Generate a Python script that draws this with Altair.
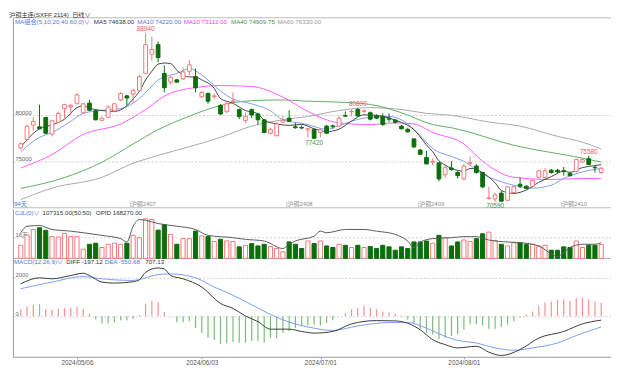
import altair as alt
import pandas as pd

# ---------------- data ----------------
opens = [76460, 77370, 78930, 78750, 79760, 77950, 79240, 80730, 80900, 81250,
         80280, 81320, 80490, 79450, 79790, 80490, 81670, 82110, 82290, 82710,
         84550, 86650, 87680, 84550, 83610, 83850, 83960, 84790, 84200, 82010,
         82360, 82010, 81070, 80390, 81530, 80620, 79450, 80620, 80140, 79510,
         78050, 77780, 79240, 79690, 78750, 78680, 78410, 78470, 78130, 78820,
         78850, 78820, 79960, 80380, 80620, 80440, 80280, 79930, 79900, 79690,
         79480, 78820, 78470, 77430, 76220, 75420, 74900, 74830, 73540, 74270,
         73780, 73090, 74790, 74480, 73780, 70960, 70910, 71530, 70760, 71600,
         72500, 72290, 72290, 73260, 73260, 74030, 74030, 73990, 73680, 73880,
         74930, 75280, 74340, 73780]
highs = [77080, 78990, 79790, 81150, 79800, 79510, 80390, 81250, 81250, 82400,
         81320, 81670, 80630, 79860, 81070, 81320, 82530, 82220, 82890, 84380,
         88940, 88540, 88020, 85420, 84270, 83960, 85210, 86040, 85100, 82640,
         82500, 82340, 81250, 81590, 82470, 80730, 80280, 80730, 80280, 79580,
         78650, 79240, 79930, 80550, 79170, 78890, 78600, 78540, 78490, 78960,
         78990, 79900, 80420, 80630, 80800, 80630, 80420, 80100, 80210, 80210,
         79600, 78960, 78650, 77500, 76350, 76150, 75310, 74900, 74480, 75000,
         73960, 74690, 75520, 74690, 73850, 72220, 71560, 71770, 72290, 72400,
         73260, 72400, 73020, 74060, 74240, 74170, 74170, 74380, 73780, 75300,
         75320, 75580, 74580, 74380]
lows = [76280, 77160, 78330, 78470, 77950, 77710, 79170, 79690, 80030, 81180,
        80210, 80490, 79450, 79380, 79690, 80340, 81530, 81070, 81350, 82640,
        84460, 85940, 85760, 82500, 83330, 83540, 83850, 84380, 82500, 81880,
        81250, 81770, 80030, 80280, 81250, 79580, 79170, 79690, 78990, 78050,
        77950, 77710, 79170, 79270, 78540, 78470, 77600, 77420, 77600, 77970,
        78540, 78680, 79840, 79900, 79860, 80210, 79430, 79580, 78850, 79270,
        79100, 78440, 78120, 76460, 75680, 74650, 74580, 72810, 73200, 73960,
        73130, 72920, 74480, 73650, 72080, 70830, 70590, 70620, 70680, 71510,
        72080, 71980, 72140, 73130, 73090, 73650, 73700, 73440, 73330, 73780,
        74860, 74580, 73780, 73610]
closes = [76900, 78820, 79340, 78540, 78050, 79400, 80210, 81150, 81070, 82220,
          81250, 80550, 79510, 79690, 80910, 81250, 82360, 81880, 82710, 84200,
          87680, 87160, 86280, 82990, 84140, 83610, 84720, 85490, 82990, 82470,
          81530, 82110, 80140, 81250, 81560, 79860, 79860, 80030, 79510, 78130,
          78470, 79060, 79450, 79340, 78650, 78620, 78540, 77500, 78410, 78050,
          78800, 79690, 79900, 80420, 79930, 80490, 79580, 79690, 78990, 79580,
          79240, 78540, 78200, 76560, 75760, 74720, 75000, 73090, 74300, 74100,
          73440, 74480, 74830, 73780, 72220, 71010, 71350, 70660, 72220, 72220,
          72290, 72050, 72920, 73960, 73960, 73780, 73850, 73960, 73440, 75180,
          75180, 74650, 74300, 74240]
volumes = [101000, 180000, 223000, 236000, 216000, 168000, 165000, 193000, 168000, 168000,
           71000, 109000, 117000, 84000, 109000, 117000, 109000, 117000, 178000, 160000,
           305000, 300000, 218000, 261000, 185000, 109000, 152000, 152000, 211000, 173000,
           168000, 130000, 147000, 135000, 130000, 89000, 101000, 114000, 96000, 109000,
           91000, 76000, 51000, 127000, 109000, 76000, 134000, 114000, 134000, 96000,
           84000, 109000, 101000, 84000, 101000, 84000, 91000, 76000, 101000, 89000,
           63000, 89000, 76000, 127000, 127000, 134000, 117000, 178000, 160000, 96000,
           127000, 142000, 130000, 152000, 190000, 203000, 139000, 109000, 96000, 120000,
           120000, 109000, 109000, 96000, 101000, 63000, 63000, 89000, 84000, 134000,
           84000, 101000, 101000, 107315]
macd_hist = [375, 513, 600, 650, 375, 340, 395, 428, 428, 480,
             375, 137, -171, -375, -375, -308, -222, -222, -137, 85,
             650, 805, 735, 222, 20, -308, -308, -256, -600, -855,
             -1111, -1231, -1453, -1402, -1333, -1367, -1367, -1282, -1282, -1367,
             -1111, -1145, -855, -769, -600, -513, -480, -427, -479, -342,
             -205, 34, 171, 375, 428, 548, 462, 375, 256, 205,
             137, -34, -171, -375, -650, -855, -940, -1197, -1111, -1026,
             -940, -684, -427, -393, -479, -650, -650, -548, -427, -256,
             -51, 85, 256, 548, 718, 769, 855, 889, 803, 940,
             975, 889, 769, 707.13]

ma5_i = [0, 3, 5, 7, 9, 10, 11, 13, 15, 17, 18, 19, 20, 21, 22, 23, 24, 25, 26, 27, 28, 29, 31, 32,
         34, 36, 38, 39, 41, 43, 45, 47, 49, 51, 53, 55, 57, 59, 61, 62, 63, 64, 65, 66, 67, 68, 70,
         71, 72, 73, 74, 75, 76, 77, 79, 81, 83, 85, 87, 88, 90, 92, 93]
ma5_v = [76560, 78540, 78960, 79580, 80830, 81040, 80780, 80520, 80420, 81040, 81770, 82600, 83850,
         84790, 85570, 85680, 85630, 84900, 84380, 84170, 84170, 83850, 82920, 81820, 81300, 80520,
         80160, 79480, 79060, 78910, 79010, 78540, 78230, 78490, 79380, 80050, 80000, 79690, 79220,
         78910, 78440, 77660, 76770, 76040, 75050, 74580, 74010, 73910, 74220, 74120, 73750, 73280,
         72660, 71820, 71510, 71880, 72710, 73330, 73910, 73800, 74320, 74530, 74638]
ma10_i = [0, 3, 5, 8, 10, 13, 16, 18, 21, 22, 25, 27, 29, 32, 34, 37, 40, 42, 45, 46, 49, 51, 55,
          59, 61, 64, 66, 69, 71, 74, 78, 82, 85, 87, 90, 93]
ma10_v = [76040, 77600, 78130, 79340, 80210, 80550, 80730, 81320, 83160, 83850, 84550, 85070, 84380,
          82640, 81770, 81250, 80490, 79510, 79120, 78980, 78470, 78890, 79690, 79870, 79510, 77780,
          76390, 75520, 75000, 73620, 72570, 72080, 72400, 73130, 73850, 74220]
ma20_i = [0, 5, 10, 16, 20, 23, 28, 32, 37, 42, 46, 51, 56, 60, 63, 66, 71, 74, 79, 85, 90, 93]
ma20_v = [74270, 75730, 77920, 79060, 80630, 82080, 83020, 83230, 83130, 81980, 80420, 79170, 78990,
          79170, 79060, 78130, 76880, 75000, 73260, 73020, 73130, 73112]
ma40_i = [0, 7, 13, 18, 22, 27, 32, 37, 42, 46, 51, 56, 61, 66, 69, 79, 90, 93]
ma40_v = [72050, 73230, 74900, 76880, 78440, 79900, 81070, 81590, 81670, 81530, 81430, 81180, 80280,
          78990, 78650, 76740, 75340, 74910]
ma60_i = [0, 5, 13, 18, 22, 32, 37, 42, 46, 51, 56, 61, 65, 69, 75, 80, 86, 90, 93]
ma60_v = [70830, 72080, 73260, 74790, 75630, 77600, 78820, 79510, 79870, 80520, 80830, 80630, 80210,
          80000, 79270, 78820, 77710, 77080, 76330]

oi_i = [0, 1, 3, 5, 8, 10, 13, 16, 17, 18, 19, 20, 22, 25, 28, 30, 34, 36, 39, 42, 43, 44, 47, 48,
        49, 52, 55, 57, 60, 62, 63, 64, 66, 69, 71, 73, 75, 78, 80, 83, 86, 87, 88, 90, 92, 93]
oi_v = [218270, 251270, 254770, 234770, 226270, 218270, 204770, 188270, 171270, 251270, 284770,
        281270, 264770, 251270, 234770, 204770, 193270, 184770, 176270, 138270, 159770, 176270,
        201270, 226270, 218270, 234770, 234770, 226270, 209770, 176270, 143270, 171270, 188270,
        193270, 198270, 198270, 181270, 171270, 168270, 151270, 98270, 118270, 143270, 159770,
        159770, 168270]

diff_i = [0, 3, 5, 8, 10, 11, 13, 15, 18, 19, 20, 22, 23, 24, 26, 29, 32, 34, 36, 38, 40, 43, 45, 47,
          50, 53, 57, 60, 62, 64, 66, 68, 70, 73, 75, 77, 80, 83, 87, 90, 93]
diff_v = [1692, 2000, 1949, 2120, 2239, 2120, 1778, 1726, 1800, 1897, 2291, 2513, 2462, 2120, 1949,
          1521, 667, 410, 17, -274, -667, -667, -786, -872, -786, -393, -222, -239, -359, -701,
          -1214, -1470, -1641, -1556, -1863, -2034, -1726, -1128, -786, -393, -197.12]
dea_i = [0, 5, 10, 13, 18, 22, 24, 28, 31, 34, 37, 40, 43, 47, 50, 54, 59, 62, 65, 68, 70, 73, 76,
         79, 82, 86, 89, 93]
dea_v = [1436, 1778, 2068, 1949, 1863, 2171, 2205, 2000, 1521, 1094, 600, 100, -300, -615, -735,
         -496, -325, -325, -615, -1043, -1248, -1385, -1641, -1761, -1641, -1385, -1000, -550.68]

date_pos = [9, 29, 48, 71]
date_txt = ["2024/05/06", "2024/06/03", "2024/07/01", "2024/08/01"]
contract_pos = [17.4, 42.5, 63.6, 86.5]
contract_txt = ["沪铜2407", "沪铜2408", "沪铜2409", "沪铜2410"]
ext_i = [20, 54, 47, 76, 91]
ext_p = [88940, 80800, 77420, 70590, 75580]
ext_kind = ["high", "high", "low", "low", "high"]
price_ticks = [75000, 80000]
vol_ticks = [160000]
macd_ticks = [0, 2000]

# ---------------- styling ----------------
FONT = "Liberation Sans, Noto Sans CJK SC, DejaVu Sans"
RED = "#f07878"
GREEN = "#0b6e0b"
HRED = "#f29292"
HGREEN = "#79bb79"
BLUE = "#4f78d8"
C_MA5, C_MA10, C_MA20, C_MA40, C_MA60 = "#444444", "#7c9ff0", "#ff5cff", "#62b062", "#a9a9a9"

df = pd.DataFrame({"i": list(range(len(opens))), "o": opens, "h": highs, "l": lows,
                   "c": closes, "v": volumes, "m": macd_hist})
one = pd.DataFrame({"k": [0]})

XS = alt.Scale(domain=[-0.47, 93.78], nice=False, zero=False)
PS = alt.Scale(domain=[69946, 90603], range=[200, 7.5], nice=False, zero=False)
VS = alt.Scale(domain=[0, 380000], range=[251.3, 201.4], nice=False, zero=False)
OS = alt.Scale(domain=[88270, 337770], range=[251.3, 201.4], nice=False, zero=False)
MS = alt.Scale(domain=[-2102.6, 3000], range=[351, 251.5], nice=False, zero=False)

expr = ""
for p, t in zip(date_pos, date_txt):
    expr += f"datum.value == {p} ? '{t}' : "
expr += "''"
XAX = alt.Axis(values=date_pos, labelExpr=expr, grid=False, domain=True, domainColor="#9a9a9a",
               ticks=True, tickColor="#9a9a9a", tickSize=2, labelFontSize=6.5, labelFont=FONT,
               labelColor="#555555", labelPadding=1, title=None, labelFlush=False)
X = alt.X("i:Q", scale=XS, axis=XAX)


def yax(vals, lexpr=None):
    kw = dict(orient="left", values=vals, grid=True, gridColor="#cfcfcf", gridDash=[2, 2],
              domain=True, domainColor="#9a9a9a", ticks=False, labelFontSize=6, labelFont=FONT,
              labelColor="#666666", labelPadding=-2, labelAlign="left", labelBaseline="bottom",
              title=None, format="d")
    if lexpr:
        kw["labelExpr"] = lexpr
    return alt.Axis(**kw)


base = alt.Chart(df)
up = base.transform_filter("datum.c >= datum.o")
dn = base.transform_filter("datum.c < datum.o")


def mline(ii, vv, color, scale, width=1.0):
    d = pd.DataFrame({"i": ii, "v": vv})
    return alt.Chart(d).mark_line(color=color, strokeWidth=width, interpolate="monotone").encode(
        x=X, y=alt.Y("v:Q", scale=scale, axis=None))


def txt(s, x, y, color, size=6.3, align="left"):
    return alt.Chart(one).mark_text(text=s, color=color, fontSize=size, font=FONT, align=align,
                                    baseline="alphabetic").encode(x=alt.value(x), y=alt.value(y))


layers = []
# separators
layers.append(alt.Chart(one).mark_rule(color="#bbbbbb", strokeWidth=1).encode(
    y=alt.YDatum(90603, type="quantitative", scale=PS, axis=None)))
layers.append(alt.Chart(one).mark_rule(color="#bbbbbb", strokeWidth=1).encode(
    y=alt.YDatum(69946, type="quantitative", scale=PS, axis=None)))
layers.append(alt.Chart(one).mark_rule(color="#aaaaaa", strokeWidth=1).encode(
    y=alt.YDatum(0, type="quantitative", scale=VS, axis=None)))

# moving averages
layers.append(mline(ma60_i, ma60_v, C_MA60, PS))
layers.append(mline(ma40_i, ma40_v, C_MA40, PS))
layers.append(mline(ma20_i, ma20_v, C_MA20, PS))
layers.append(mline(ma10_i, ma10_v, C_MA10, PS))
layers.append(mline(ma5_i, ma5_v, C_MA5, PS))

# candles
layers.append(up.mark_rule(color=RED, strokeWidth=1).encode(
    x=X, y=alt.Y("l:Q", scale=PS, axis=yax(price_ticks)), y2=alt.Y2("h")))
layers.append(dn.mark_rule(color=GREEN, strokeWidth=1).encode(
    x=X, y=alt.Y("l:Q", scale=PS, axis=None), y2=alt.Y2("h")))
layers.append(up.mark_bar(size=3.8, fill="white", stroke=RED, strokeWidth=1).encode(
    x=X, y=alt.Y("o:Q", scale=PS, axis=None), y2=alt.Y2("c")))
layers.append(dn.mark_bar(size=3.8, fill=GREEN, stroke=GREEN, strokeWidth=1).encode(
    x=X, y=alt.Y("o:Q", scale=PS, axis=None), y2=alt.Y2("c")))

# extreme labels
ext = pd.DataFrame({"i": ext_i, "p": ext_p, "t": [str(p) for p in ext_p], "k": ext_kind})
layers.append(alt.Chart(ext).transform_filter("datum.k == 'high'").mark_text(
    color="#e85a5a", fontSize=6.5, font=FONT, baseline="bottom", dy=-1).encode(
    x=X, y=alt.Y("p:Q", scale=PS, axis=None), text="t:N"))
layers.append(alt.Chart(ext).transform_filter("datum.k == 'low'").mark_text(
    color="#3d933d", fontSize=6.5, font=FONT, baseline="top", dy=1).encode(
    x=X, y=alt.Y("p:Q", scale=PS, axis=None), text="t:N"))

# contract switch labels
ct = pd.DataFrame({"i": contract_pos, "t": ["|" + t for t in contract_txt]})
layers.append(alt.Chart(ct).mark_text(color="#8a8a8a", fontSize=6, font=FONT, align="left",
                                      baseline="alphabetic").encode(
    x=X, y=alt.value(198.5), text="t:N"))

# volume + open interest
layers.append(up.mark_bar(size=4.2, fill="white", stroke=RED, strokeWidth=1).encode(
    x=X, y=alt.Y("v:Q", scale=VS, axis=yax(vol_ticks, "'16万'")), y2=alt.datum(0)))
layers.append(dn.mark_bar(size=4.2, fill=GREEN, stroke=GREEN, strokeWidth=1).encode(
    x=X, y=alt.Y("v:Q", scale=VS, axis=None), y2=alt.datum(0)))
layers.append(mline(oi_i, oi_v, "#5a5a5a", OS, 1.0))

# MACD
layers.append(base.transform_filter("datum.m >= 0").mark_rule(color=HRED, strokeWidth=1.2).encode(
    x=X, y=alt.Y("m:Q", scale=MS, axis=yax(macd_ticks)), y2=alt.datum(0)))
layers.append(base.transform_filter("datum.m < 0").mark_rule(color=HGREEN, strokeWidth=1.2).encode(
    x=X, y=alt.Y("m:Q", scale=MS, axis=None), y2=alt.datum(0)))
layers.append(mline(dea_i, dea_v, C_MA10, MS))
layers.append(mline(diff_i, diff_v, "#3a3a3a", MS))

# texts
layers += [
    txt("沪铜主连(SXFF 2114)", -4, 6.2, "#333333"),
    txt("日线∨", 60, 6.2, "#333333"),
    txt("MA组合(5,10,20,40,60,0)∨", 2, 13.6, BLUE),
    txt("MA5 74638.00", 82, 13.6, "#333333"),
    txt("MA10 74220.00", 126, 13.6, BLUE),
    txt("MA20 73112.00", 173, 13.6, "#ee44ee"),
    txt("MA40 74909.75", 221, 13.6, "#3f993f"),
    txt("MA60 76330.00", 268, 13.6, "#999999"),
    txt("94天", 1, 198.5, BLUE),
    txt("CJL(0)∨", 2, 207.5, BLUE),
    txt("107315.00(50:50)", 30, 207.5, "#333333"),
    txt("OPID 168270.00", 84, 207.5, "#333333"),
    txt("MACD(12,26,9)∨", 1, 256.5, BLUE),
    txt("DIFF -197.12", 54, 256.5, "#333333"),
    txt("DEA -550.68", 93, 256.5, BLUE),
    txt("707.13", 134, 256.5, "#333333"),
]

chart = alt.layer(*layers).resolve_scale(y="independent").properties(
    width=606, height=351,
    padding={"left": 5, "top": 0, "right": 0, "bottom": 13},
    autosize=alt.AutoSizeParams(type="none"),
    background="white",
).configure_view(stroke=None)

chart.save("out.html", embed_options={"renderer": "svg", "actions": False})
